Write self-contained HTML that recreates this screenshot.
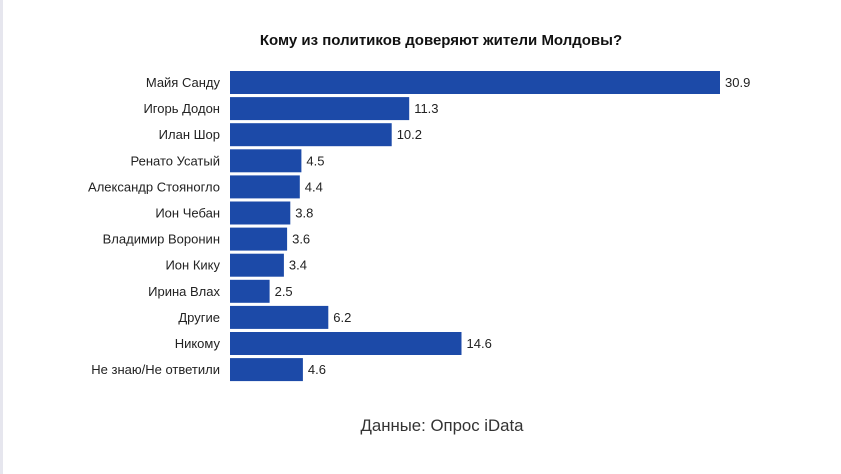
<!DOCTYPE html>
<html><head><meta charset="utf-8"><style>
html,body{margin:0;padding:0;background:#fff;}
body{width:841px;height:474px;overflow:hidden;position:relative;}
svg{position:absolute;left:0;top:0;font-family:"Liberation Sans",sans-serif;}
</style></head><body>
<svg width="841" height="474" viewBox="0 0 841 474">
<rect x="0" y="0" width="3" height="474" fill="#e6e6ee"/>
<text x="441" y="45" text-anchor="middle" font-size="15" font-weight="bold" fill="#111">Кому из политиков доверяют жители Молдовы?</text>
<g fill="#1c4aa8">
<rect x="230" y="71" width="490" height="23"/>
<rect x="230" y="97.1" width="179.2" height="23"/>
<rect x="230" y="123.2" width="161.7" height="23"/>
<rect x="230" y="149.3" width="71.4" height="23"/>
<rect x="230" y="175.4" width="69.8" height="23"/>
<rect x="230" y="201.5" width="60.3" height="23"/>
<rect x="230" y="227.6" width="57.1" height="23"/>
<rect x="230" y="253.7" width="53.9" height="23"/>
<rect x="230" y="279.8" width="39.6" height="23"/>
<rect x="230" y="305.9" width="98.3" height="23"/>
<rect x="230" y="332" width="231.5" height="23"/>
<rect x="230" y="358.1" width="72.9" height="23"/>
</g>
<g font-size="13" fill="#222" text-anchor="end">
<text x="220" y="87">Майя Санду</text>
<text x="220" y="113.1">Игорь Додон</text>
<text x="220" y="139.2">Илан Шор</text>
<text x="220" y="165.3">Ренато Усатый</text>
<text x="220" y="191.4">Александр Стояногло</text>
<text x="220" y="217.5">Ион Чебан</text>
<text x="220" y="243.6">Владимир Воронин</text>
<text x="220" y="269.7">Ион Кику</text>
<text x="220" y="295.8">Ирина Влах</text>
<text x="220" y="321.9">Другие</text>
<text x="220" y="348">Никому</text>
<text x="220" y="374.1">Не знаю/Не ответили</text>
</g>
<g font-size="13" fill="#222">
<text x="725" y="87">30.9</text>
<text x="414.2" y="113.1">11.3</text>
<text x="396.7" y="139.2">10.2</text>
<text x="306.4" y="165.3">4.5</text>
<text x="304.8" y="191.4">4.4</text>
<text x="295.3" y="217.5">3.8</text>
<text x="292.1" y="243.6">3.6</text>
<text x="288.9" y="269.7">3.4</text>
<text x="274.6" y="295.8">2.5</text>
<text x="333.3" y="321.9">6.2</text>
<text x="466.5" y="348">14.6</text>
<text x="307.9" y="374.1">4.6</text>
</g>
<text x="442" y="431" text-anchor="middle" font-size="16.8" fill="#333">Данные: Опрос iData</text>
</svg>
</body></html>
